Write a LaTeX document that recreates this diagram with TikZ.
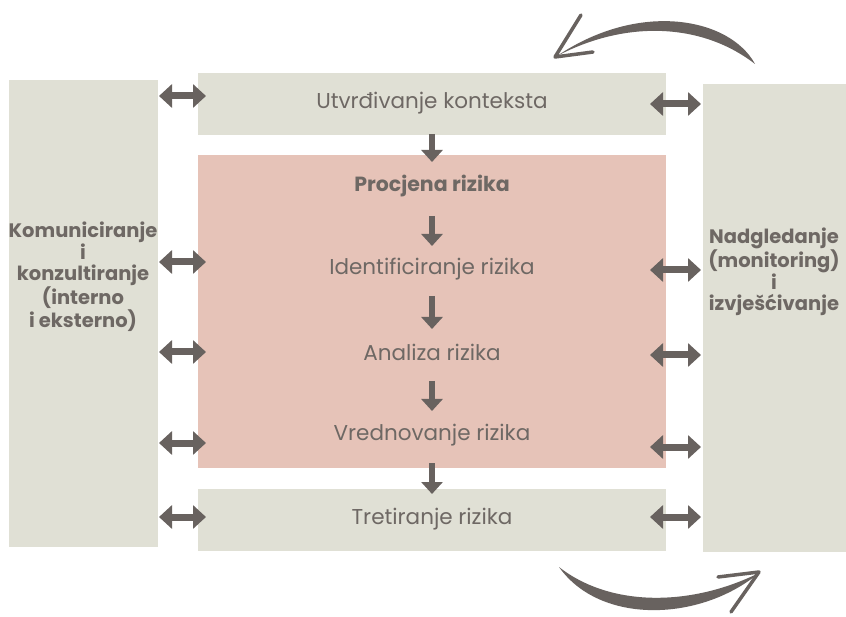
\documentclass[tikz,border=0pt]{standalone}
\usepackage{fontspec}
\setmainfont{Poppins}
\usetikzlibrary{arrows.meta}
\definecolor{boxgrey}{HTML}{E0E0D5}
\definecolor{boxpink}{HTML}{E6C3B8}
\definecolor{txt}{HTML}{6E6864}
\definecolor{arr}{HTML}{68625F}
\begin{document}
\begin{tikzpicture}[x=1pt,y=-1pt,
  lbl/.style={text=txt, font=\fontsize{21.5}{24}\selectfont, anchor=center},
  side/.style={text=txt, font=\bfseries\fontsize{19.5}{21.5}\selectfont, align=center, anchor=center},
  dbl/.style={draw=arr, line width=7pt, {Triangle[width=23pt,length=13pt]}-{Triangle[width=23pt,length=13pt]}},
  down/.style={draw=arr, line width=6pt, -{Triangle[width=21pt,length=12pt]}},
]
\useasboundingbox (0,0) rectangle (846,617);
\fill[white] (0,0) rectangle (846,617);
% boxes
\fill[boxgrey] (9,80) rectangle (158,547);
\fill[boxgrey] (703,84) rectangle (846,552);
\fill[boxgrey] (198,73) rectangle (666,135);
\fill[boxpink] (198,155) rectangle (666,468);
\fill[boxgrey] (198,489) rectangle (666,551);
% texts
\node[lbl] (ctx) at (432,103) {Utvrđivanje konteksta};
\node[lbl, font=\bfseries\fontsize{20.5}{24}\selectfont] (proc) at (432,186) {Procjena rizika};
\node[lbl] (iden) at (432,269) {Identificiranje rizika};
\node[lbl] (anal) at (432,352) {Analiza rizika};
\node[lbl] (vred) at (432,435) {Vrednovanje rizika};
\node[lbl] (tret) at (432,519) {Tretiranje rizika};
\node[side] (kom) at (83,277) {Komuniciranje\\i\\konzultiranje\\(interno\\i eksterno)};
\node[side] (nad) at (774,272) {Nadgledanje\\(monitoring)\\i\\izvješćivanje};
% coordinates for arrows
\foreach \n/\y in {1/96,2/262,3/352,4/443,5/517}{
  \coordinate (la\n) at (159,\y);
  \coordinate (lb\n) at (206,\y);
}
\foreach \n/\y in {1/104,2/270,3/355,4/447,5/517}{
  \coordinate (ra\n) at (650,\y);
  \coordinate (rb\n) at (701,\y);
}
\foreach \n in {1,...,5}{
  \draw[dbl] (la\n) -- (lb\n);
  \draw[dbl] (ra\n) -- (rb\n);
}
% down arrows
\coordinate (d1a) at (432,134); \coordinate (d1b) at (432,162);
\coordinate (d2a) at (432,216); \coordinate (d2b) at (432,246);
\coordinate (d3a) at (432,296); \coordinate (d3b) at (432,329);
\coordinate (d4a) at (432,381); \coordinate (d4b) at (432,411);
\coordinate (d5a) at (432,463); \coordinate (d5b) at (432,494);
\foreach \n in {1,...,5}{ \draw[down] (d\n a) -- (d\n b); }
% curved arrow top
\fill[arr] (755,64) .. controls (730,18) and (640,0) .. (557,56)
  .. controls (630,18) and (705,25) .. (755,64) -- cycle;
\draw[arr, line width=3.5pt, line cap=round, line join=round] (581,15) -- (555,57) -- (593,52);
% curved arrow bottom
\fill[arr] (559,567) .. controls (600,625) and (700,622) .. (759,573)
  .. controls (690,607) and (610,607) .. (559,567) -- cycle;
\draw[arr, line width=3.5pt, line cap=round, line join=round] (718,577) -- (759,572) -- (731,612);
\end{tikzpicture}
\end{document}
